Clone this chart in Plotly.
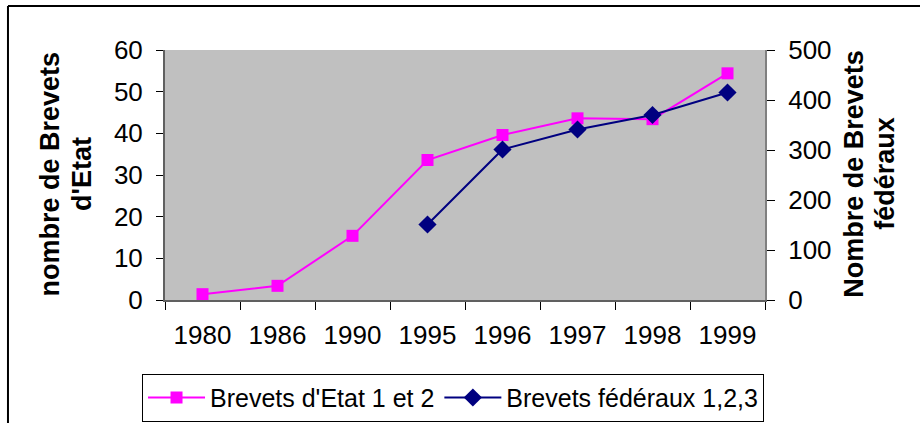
import plotly.graph_objects as go

years = ["1980", "1986", "1990", "1995", "1996", "1997", "1998", "1999"]
etat = [1.4, 3.4, 15.4, 33.6, 39.6, 43.6, 43.4, 54.4]
fed_years = ["1995", "1996", "1997", "1998", "1999"]
federaux = [151, 301, 341, 370, 415]

FONT = "Liberation Sans, Arial, sans-serif"

fig = go.Figure()
fig.add_trace(go.Scatter(
    x=years, y=etat, name="Brevets d'Etat 1 et 2", mode="lines+markers",
    line=dict(color="#FF00FF", width=2),
    marker=dict(symbol="square", size=12, color="#FF00FF"),
    xaxis="x", yaxis="y"))
fig.add_trace(go.Scatter(
    x=fed_years, y=federaux, name="Brevets fédéraux 1,2,3", mode="lines+markers",
    line=dict(color="#000080", width=2),
    marker=dict(symbol="diamond", size=14, color="#000080"),
    xaxis="x", yaxis="y2"))

tickfont = dict(family=FONT, size=26, color="black")

fig.update_layout(
    width=920, height=423,
    margin=dict(l=165, r=155, t=50, b=123, autoexpand=False),
    paper_bgcolor="white", plot_bgcolor="#C0C0C0",
    font=dict(family=FONT, size=26, color="black"),
    showlegend=True,
    legend=dict(orientation="h", x=-0.0383, xanchor="left", y=-0.295, yanchor="top",
                bordercolor="black", borderwidth=1, bgcolor="white",
                font=dict(family=FONT, size=25), itemwidth=57,
                tracegroupgap=0),
    xaxis=dict(type="category", categoryorder="array", categoryarray=years,
               range=[-0.5, 7.5], tickson="boundaries", ticks="outside",
               ticklen=8, tickcolor="black", tickwidth=1,
               showline=True, linecolor="#606060", linewidth=2,
               showgrid=False, zeroline=False, tickfont=tickfont,
               ticklabelstandoff=11, automargin=False),
    xaxis2=dict(overlaying="x", side="top", range=[-0.5, 7.5], showline=True,
                linecolor="#808080", linewidth=2, showticklabels=False,
                ticks="", showgrid=False, zeroline=False),
    yaxis=dict(range=[0, 60], dtick=10, ticks="outside", ticklen=7,
               tickcolor="black", showline=True, linecolor="#606060",
               linewidth=2, showgrid=False, zeroline=False, tickfont=tickfont,
               ticklabelstandoff=8, automargin=False),
    yaxis3=dict(overlaying="y", anchor="x", range=[0, 60], dtick=10,
                ticks="inside", ticklen=7, tickcolor="black",
                showticklabels=False, showline=False, showgrid=False,
                zeroline=False),
    yaxis2=dict(overlaying="y", side="right", anchor="x", range=[0, 500],
                dtick=100, ticks="outside", ticklen=8, tickcolor="black",
                showline=True, linecolor="#808080", linewidth=2,
                showgrid=False, zeroline=False, tickfont=tickfont,
                ticklabelstandoff=8, automargin=False),
    yaxis4=dict(overlaying="y", side="right", anchor="x", range=[0, 500],
                dtick=100, ticks="inside", ticklen=8, tickcolor="black",
                showticklabels=False, showline=False, showgrid=False,
                zeroline=False),
)

titlefont = dict(family=FONT, size=27, color="black")
for txt, xp in [("nombre de Brevets", -0.192), ("d'Etat", -0.138),
                ("Nombre de Brevets", 1.1483), ("fédéraux", 1.2)]:
    fig.add_annotation(text="<b>" + txt + "</b>", textangle=-90,
                       xref="paper", yref="paper", x=xp, y=0.505,
                       xanchor="center", yanchor="middle", showarrow=False,
                       font=titlefont)

# outer chart frame (top and left edges visible)
fig.add_shape(type="line", xref="paper", yref="paper", x0=-0.2617, x1=1.3,
              y0=1.176, y1=1.176, line=dict(color="black", width=2))
fig.add_shape(type="line", xref="paper", yref="paper", x0=-0.2617, x1=-0.2617,
              y0=1.176, y1=-0.6, line=dict(color="black", width=2))

fig.write_html("out.html", config={"displayModeBar": False},
               post_script="document.body.style.margin='0px';")
